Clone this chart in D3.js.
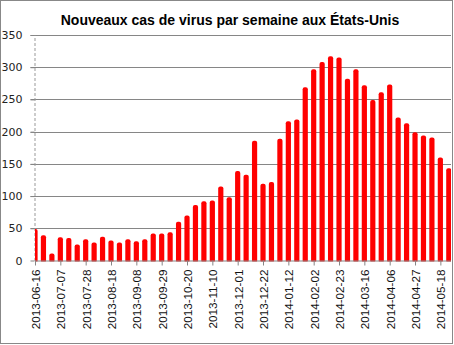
<!DOCTYPE html>
<html><head><meta charset="utf-8">
<script src="https://cdn.jsdelivr.net/npm/d3@7"></script>
<style>html,body{margin:0;padding:0;background:#fff;}svg{display:block;}</style>
</head><body>
<script>
const title = "Nouveaux cas de virus par semaine aux États-Unis";
const weeks = ["2013-06-16","2013-06-23","2013-06-30","2013-07-07","2013-07-14","2013-07-21","2013-07-28","2013-08-04","2013-08-11","2013-08-18",
"2013-08-25","2013-09-01","2013-09-08","2013-09-15","2013-09-22","2013-09-29","2013-10-06","2013-10-13","2013-10-20","2013-10-27",
"2013-11-03","2013-11-10","2013-11-17","2013-11-24","2013-12-01","2013-12-08","2013-12-15","2013-12-22","2013-12-29","2014-01-05",
"2014-01-12","2014-01-19","2014-01-26","2014-02-02","2014-02-09","2014-02-16","2014-02-23","2014-03-02","2014-03-09","2014-03-16",
"2014-03-23","2014-03-30","2014-04-06","2014-04-13","2014-04-20","2014-04-27","2014-05-04","2014-05-11","2014-05-18","2014-05-25"];
const cases = [49,39,11,36,35,25,33,28,37,31,
28,33,30,33,42,42,44,60,70,86,
92,93,115,98,139,133,186,119,122,189,
216,219,269,297,308,317,315,282,297,272,
249,261,273,222,213,199,194,191,160,143];
const xTickLabels = ["2013-06-16","2013-07-07","2013-07-28","2013-08-18","2013-09-08","2013-09-29","2013-10-20","2013-11-10","2013-12-01","2013-12-22","2014-01-12","2014-02-02","2014-02-23","2014-03-16","2014-04-06","2014-04-27","2014-05-18"];
const yTicks = [0,50,100,150,200,250,300,350];

const W = 454, H = 345;
const L = 35, R = 451, T = 35, B = 260.5;
const parse = d3.utcParse("%Y-%m-%d");
const fmt = d3.utcFormat("%Y-%m-%d");
const dates = weeks.map(parse);

const svg = d3.select("body").append("svg").attr("width", W).attr("height", H);
svg.append("rect").attr("x",0.5).attr("y",0.5).attr("width",452).attr("height",343)
  .attr("fill","#fff").attr("stroke","#888").attr("stroke-width",1);

const x = d3.scaleUtc().domain([dates[0], dates[dates.length-1]]).range([L, L + 49*8.445]);
const y = d3.scaleLinear().domain([0,350]).range([B, T]);

// gridlines
svg.append("g").selectAll("line").data(yTicks.filter(d=>d>0)).join("line")
  .attr("x1", L-4.5).attr("x2", R).attr("y1", d=>Math.round(y(d))+0.5).attr("y2", d=>Math.round(y(d))+0.5)
  .attr("stroke","#868686").attr("stroke-width",1);

// y axis
const yAxis = svg.append("g").attr("transform",`translate(${L-0.5},0)`)
  .call(d3.axisLeft(y).tickValues(yTicks).tickSize(4).tickSizeOuter(0).tickPadding(8));
yAxis.select(".domain").attr("stroke","#999").attr("stroke-dasharray","3,2");
yAxis.selectAll(".tick line").attr("stroke","#868686");
yAxis.selectAll("text").attr("font-family","DejaVu Sans, Verdana, sans-serif").attr("font-size","11px").attr("fill","#222");

// bars
svg.append("clipPath").attr("id","clip").append("rect").attr("x",L).attr("y",0).attr("width",R-L).attr("height",B+1);
const bw = 5.2;
svg.append("g").attr("clip-path","url(#clip)").selectAll("rect").data(cases).join("rect")
  .attr("x",(d,i)=>x(dates[i])-bw/2).attr("width",bw)
  .attr("y",d=>y(d)).attr("height",d=>B-y(d)+2)
  .attr("rx",2).attr("fill","#ff0000");

// x axis
const xAxis = svg.append("g").attr("transform",`translate(0,${B})`)
  .call(d3.axisBottom(x).tickValues(xTickLabels.map(parse)).tickFormat(fmt).tickSize(5).tickSizeOuter(0));
xAxis.select(".domain").attr("stroke","#868686").attr("d",`M${L},0.5H${R}`);
xAxis.selectAll(".tick line").attr("stroke","#868686");
xAxis.selectAll("text")
  .attr("font-family","Liberation Sans, Arial, sans-serif").attr("font-size","11.7px").attr("fill","#111")
  .attr("transform","rotate(-90)").attr("text-anchor","end")
  .attr("x",-9).attr("y",0).attr("dy","0.38em");

// title
svg.append("text").attr("x",230).attr("y",24.5).attr("text-anchor","middle")
  .attr("font-family","Liberation Sans, Arial, sans-serif").attr("font-weight","bold").attr("font-size","14px")
  .attr("fill","#000").text(title);
</script>
</body></html>
